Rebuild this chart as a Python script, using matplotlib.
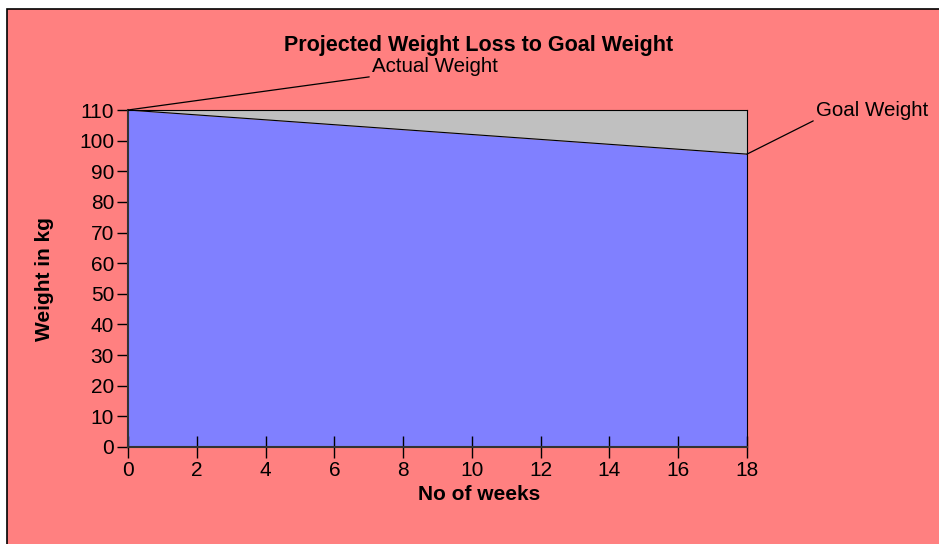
import matplotlib
matplotlib.use("Agg")
import matplotlib.pyplot as plt
from matplotlib.patches import Rectangle

plt.rcParams['font.family'] = ['Liberation Sans', 'DejaVu Sans']

# data
weeks = [0, 18]
weight = [110, 95.6]
top_weight = [110, 110]
x_ticks = list(range(0, 19, 2))
y_ticks = list(range(0, 111, 10))

W, H = 939, 544
fig = plt.figure(figsize=(W / 100, H / 100), dpi=100)
fig.patch.set_facecolor("white")

# pink chart area with black frame, starting a few px in from the top left
# (runs off the right and bottom edges like the original)
bg = Rectangle((7 / W, -0.05), 1.1, 1 - 9 / H + 0.05, transform=fig.transFigure,
               facecolor="#FF8080", edgecolor="black", linewidth=1.2, zorder=-10)
fig.patches.append(bg)

ax = fig.add_axes([128 / W, 97 / H, (747 - 128) / W, (447 - 110) / H])
ax.set_facecolor("none")
ax.set_zorder(5)

ax.fill_between(weeks, 0, weight, color="#8080FF", linewidth=0)
ax.fill_between(weeks, weight, top_weight, color="#C0C0C0", linewidth=0)
ax.plot(weeks, weight, color="black", linewidth=0.8)

ax.set_xlim(0, 18)
ax.set_ylim(0, 110)
ax.set_xticks(x_ticks)
ax.set_yticks(y_ticks)
ax.tick_params(axis="x", direction="inout", length=16, width=1, labelsize=15, pad=2)
ax.tick_params(axis="y", direction="out", length=8, width=1, labelsize=15, pad=2)

for s in ax.spines.values():
    s.set_color("black")
    s.set_linewidth(0.8)
ax.spines["left"].set_color("#333333")
ax.spines["left"].set_linewidth(1.5)
ax.spines["bottom"].set_color("#333333")
ax.spines["bottom"].set_linewidth(1.5)

fig.text(479 / W, 1 - 45 / H, "Projected Weight Loss to Goal Weight",
         ha="center", va="center", fontsize=15.5, fontweight="bold")
fig.text(479 / W, 1 - 494 / H, "No of weeks",
         ha="center", va="center", fontsize=15, fontweight="bold")
fig.text(45 / W, 1 - 279 / H, "Weight in kg", rotation=90,
         ha="center", va="center", fontsize=15, fontweight="bold")

# leader-line labels
ax.annotate("Actual Weight", xy=(weeks[0], weight[0]),
            xytext=(372 / W, 1 - 67 / H), textcoords="figure fraction",
            ha="left", va="center", fontsize=14.8,
            arrowprops=dict(arrowstyle="-", color="black", lw=0.9,
                            shrinkA=0, shrinkB=0,
                            relpos=(0, 0)), annotation_clip=False)
ax.annotate("Goal Weight", xy=(weeks[-1], weight[-1]),
            xytext=(816 / W, 1 - 110 / H), textcoords="figure fraction",
            ha="left", va="center", fontsize=14.8,
            arrowprops=dict(arrowstyle="-", color="black", lw=0.9,
                            shrinkA=0, shrinkB=0,
                            relpos=(0, 0)), annotation_clip=False)

fig.savefig("out.png", dpi=100)
